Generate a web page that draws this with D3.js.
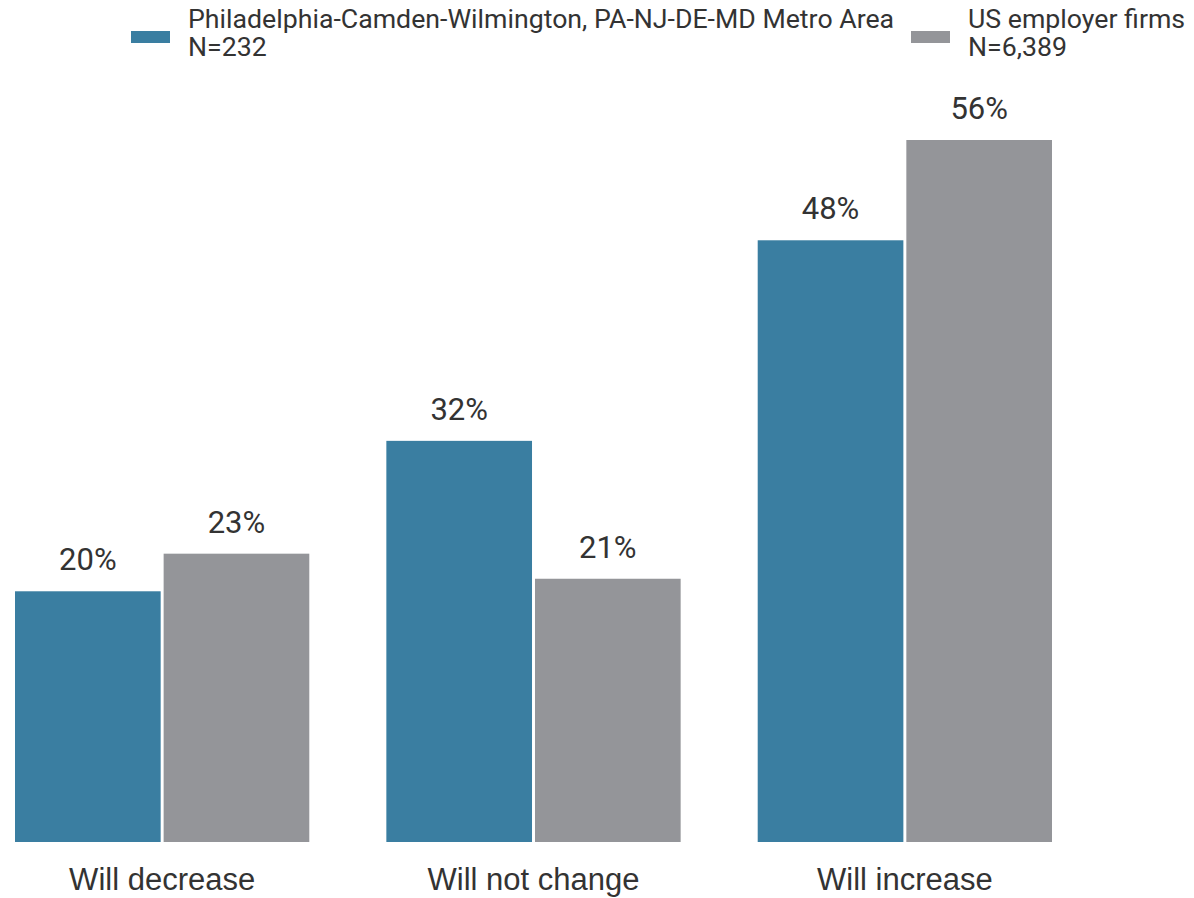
<!DOCTYPE html>
<html>
<head>
<meta charset="utf-8">
<script src="https://cdn.jsdelivr.net/npm/d3@7"></script>
<style>
  body { margin: 0; background: #fff; }
  svg { display: block; }
</style>
</head>
<body>
<div id="chart-area"></div>
<script>
const categories = ["Will decrease", "Will not change", "Will increase"];
const seriesNames = ["Philadelphia-Camden-Wilmington, PA-NJ-DE-MD Metro Area", "US employer firms"];
const seriesN = ["N=232", "N=6,389"];
const metroValues = [20, 32, 48];
const usValues = [23, 21, 56];
const colors = ["#3a7ea1", "#949599"];

const svg = d3
  .select("#chart-area")
  .append("svg")
  .attr("width", 1194)
  .attr("height", 898);

const x0 = d3.scaleBand().domain(categories).range([15, 1052]).paddingInner(0.2075).paddingOuter(0);
const x1 = d3.scaleBand().domain([0, 1]).range([0, x0.bandwidth()]).paddingInner(0.02);
const y = d3.scaleLinear().domain([0, 56]).range([842, 140]);

const rows = categories.map((c, i) => ({ cat: c, vals: [metroValues[i], usValues[i]] }));

const groups = svg
  .selectAll("g.group")
  .data(rows)
  .enter()
  .append("g")
  .attr("class", "group")
  .attr("transform", (d) => `translate(${x0(d.cat)},0)`);

groups
  .selectAll("rect")
  .data((d) => d.vals.map((v, s) => ({ v, s })))
  .enter()
  .append("rect")
  .attr("x", (d) => x1(d.s))
  .attr("y", (d) => y(d.v))
  .attr("width", x1.bandwidth())
  .attr("height", (d) => y(0) - y(d.v))
  .attr("fill", (d) => colors[d.s]);

groups
  .selectAll("text.val")
  .data((d) => d.vals.map((v, s) => ({ v, s })))
  .enter()
  .append("text")
  .attr("class", "val")
  .attr("x", (d) => x1(d.s) + x1.bandwidth() / 2)
  .attr("y", (d) => y(d.v) - 21)
  .attr("text-anchor", "middle")
  .attr("font-family", "Roboto")
  .attr("font-size", 31)
  .attr("fill", "#333")
  .text((d) => d.v + "%");

// category axis labels
const xAxis = d3.axisBottom(x0).tickSize(0).tickPadding(0);
const axisG = svg.append("g").attr("transform", "translate(0,842)").call(xAxis);
axisG.select(".domain").remove();
axisG
  .selectAll("text")
  .attr("dy", null)
  .attr("y", 48)
  .attr("font-family", "Liberation Sans, Arial, sans-serif")
  .attr("font-size", 31)
  .attr("fill", "#333");

// legend
const legendX = [131, 911];
const legend = svg
  .selectAll("g.legend")
  .data(seriesNames)
  .enter()
  .append("g")
  .attr("class", "legend")
  .attr("transform", (d, i) => `translate(${legendX[i]},0)`);

legend
  .append("rect")
  .attr("x", 0)
  .attr("y", 31)
  .attr("width", 39)
  .attr("height", 12)
  .attr("fill", (d, i) => colors[i]);

legend
  .append("text")
  .attr("x", 57)
  .attr("y", 28)
  .attr("font-family", "Roboto")
  .attr("font-size", 26.7)
  .attr("fill", "#333")
  .text((d) => d);

legend
  .append("text")
  .attr("x", 57)
  .attr("y", 56)
  .attr("font-family", "Roboto")
  .attr("font-size", 26.7)
  .attr("fill", "#333")
  .text((d, i) => seriesN[i]);
</script>
</body>
</html>
